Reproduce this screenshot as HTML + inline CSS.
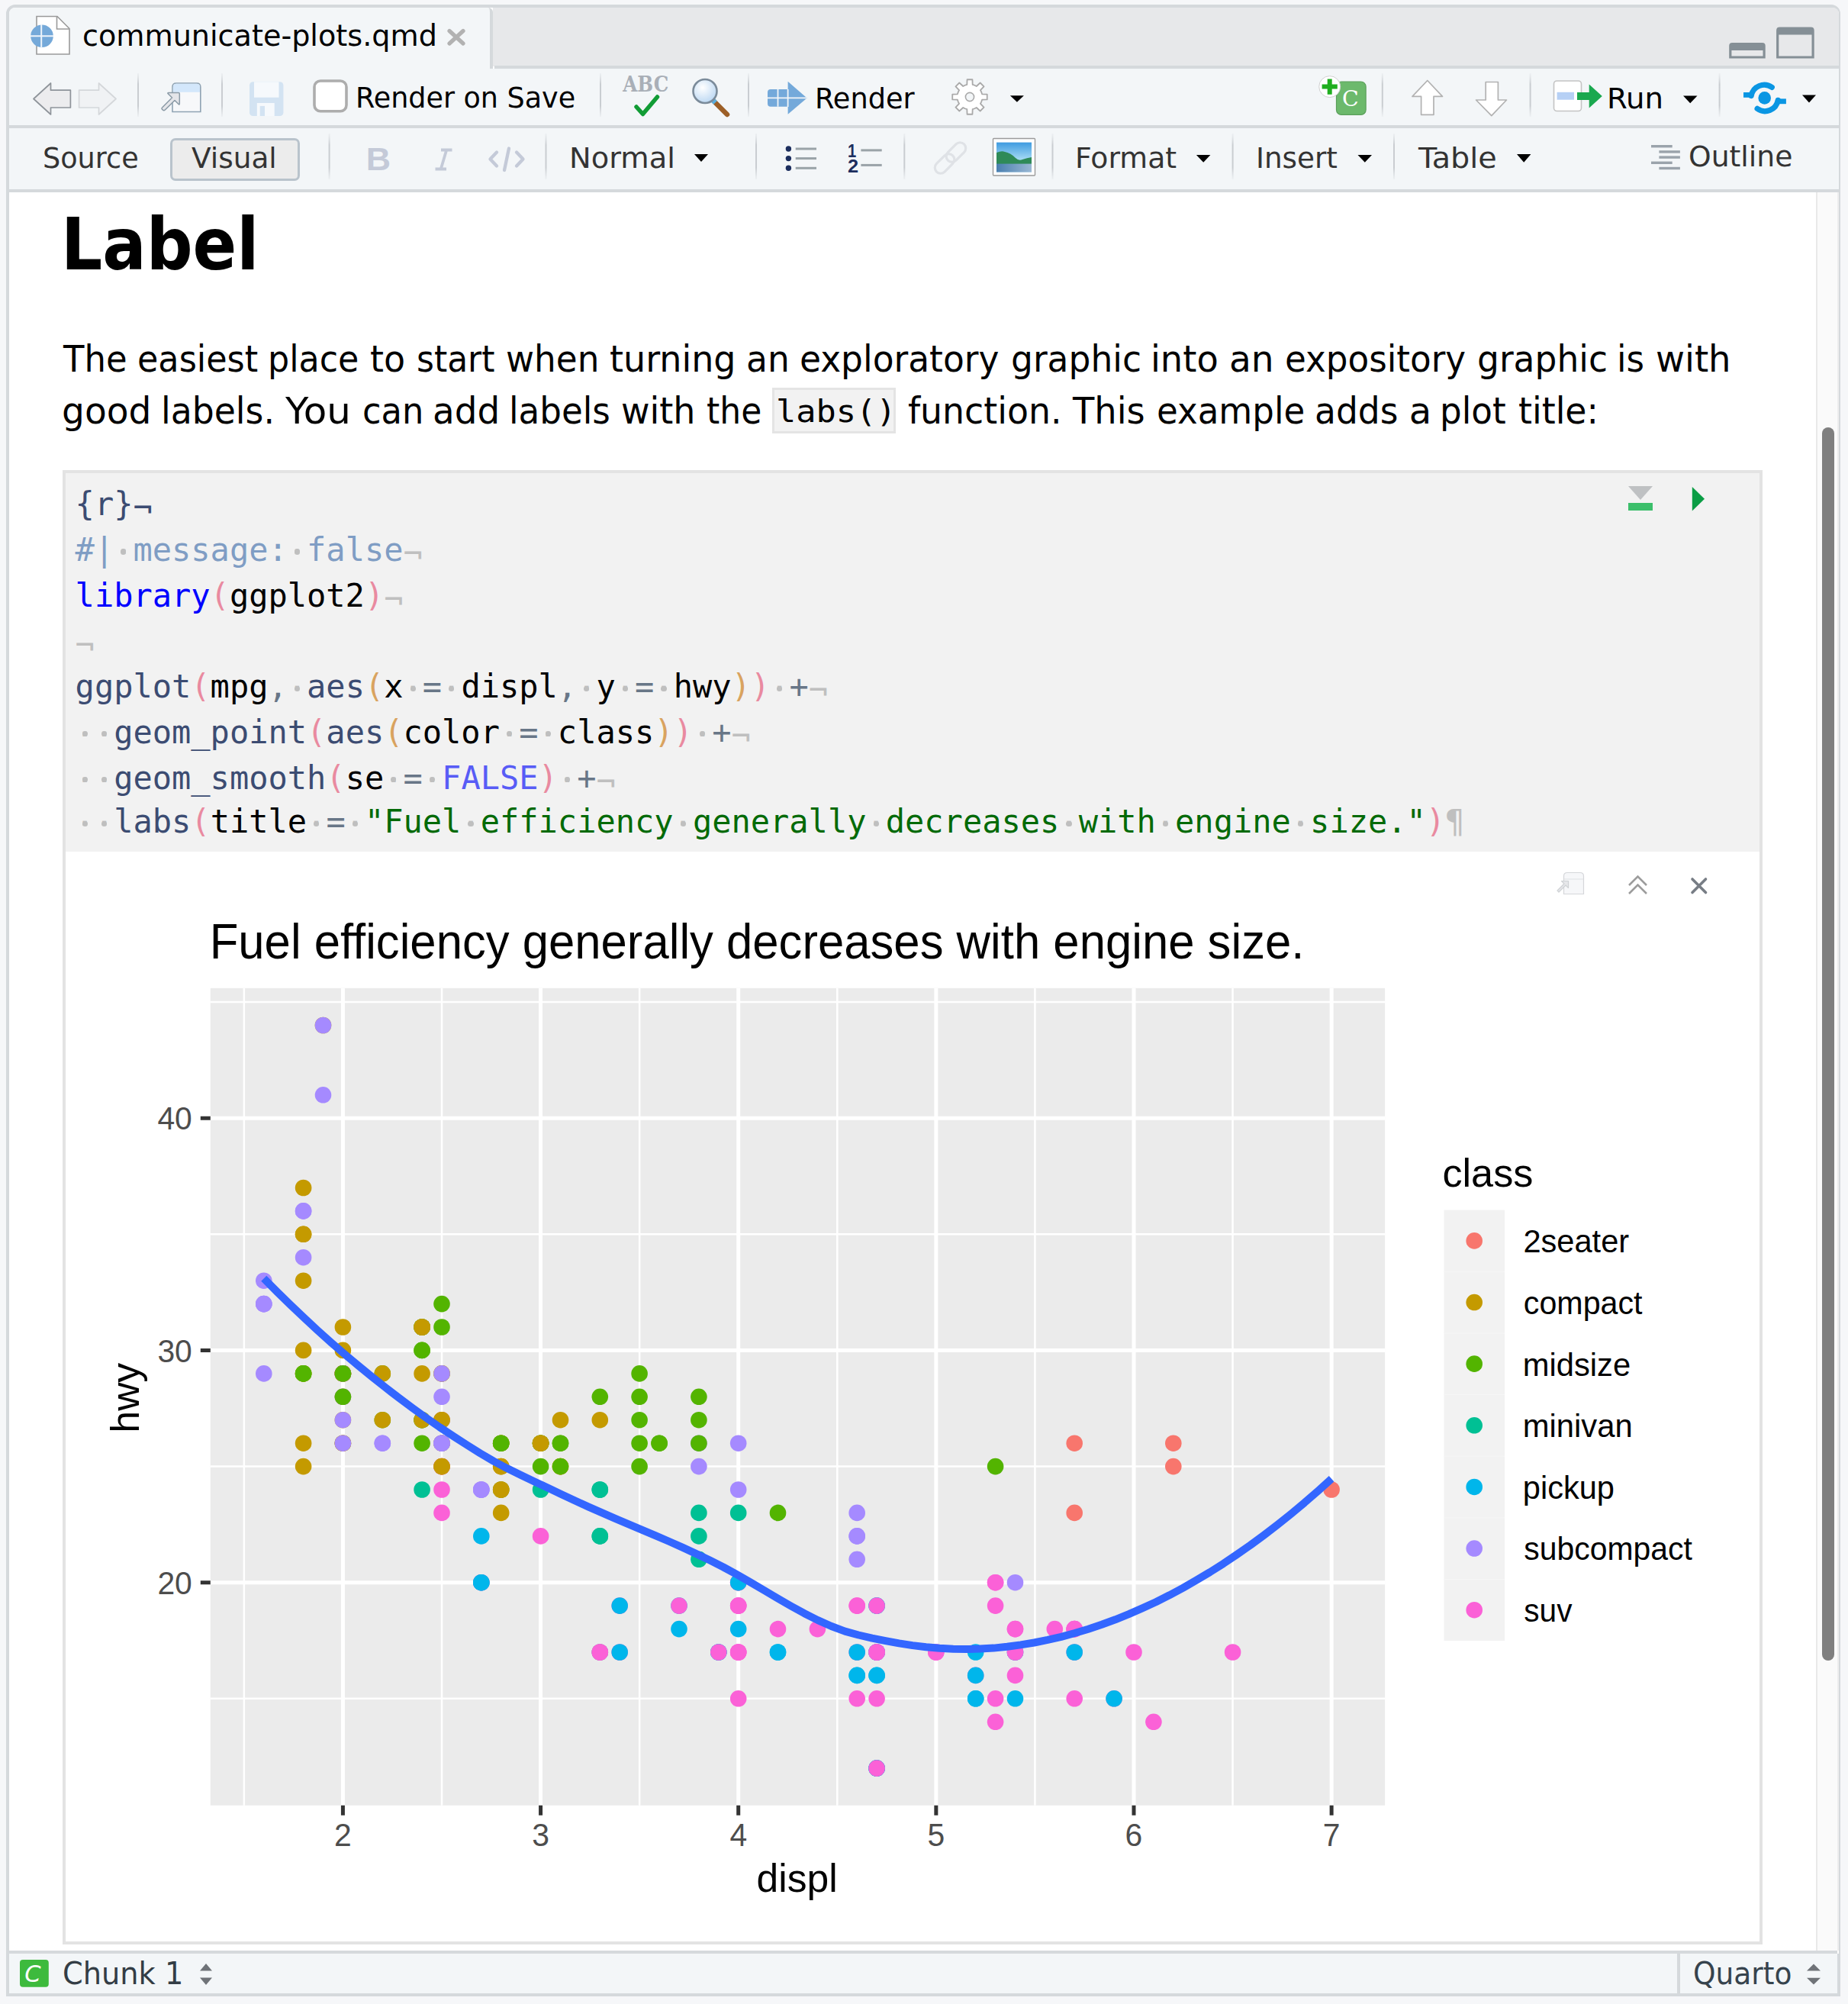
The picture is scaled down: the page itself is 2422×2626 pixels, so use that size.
<!DOCTYPE html>
<html><head><meta charset="utf-8"><title>communicate-plots.qmd</title><style>
*{margin:0;padding:0;box-sizing:border-box}
html,body{width:2422px;height:2626px;overflow:hidden}
body{position:relative;background:#f6f7f9;font-family:'DejaVu Sans',sans-serif}
.t{position:absolute;white-space:pre;line-height:0;transform-origin:0 0}
.a{position:absolute}
.code{position:absolute;white-space:pre;line-height:0;font-family:'DejaVu Sans Mono',monospace;font-size:42px;color:#000}
.plot{position:absolute;left:86px;top:1116px}
.dt{color:#bfbfbf;position:relative;top:3px}
.nl{position:relative;top:5px}
.dt::before{content:'';position:absolute;left:50%;top:20.6px;width:7.2px;height:7.2px;margin-left:-3.6px;border-radius:50%;background:#bfbfbf}
#icons{position:absolute;left:0;top:0}
</style></head><body>
<div class="a" id="frame" style="left:8px;top:6px;width:2404px;height:2610px;border:4px solid #d5d9dc;border-right-width:2px;border-radius:12px 12px 0 0;background:#fff"></div>
<div class="a" style="left:646px;top:10px;width:1764px;height:77px;background:#e7e8ea;border-top-right-radius:8px"></div>
<div class="a" style="left:648px;top:86px;width:1762px;height:4px;background:#d5d9dc"></div>
<div class="a" style="left:12px;top:10px;width:634px;height:80px;background:#f3f6f8;border-right:4px solid #d5d9dc;border-radius:8px 6px 0 0"></div>
<div class="a" id="tb1" style="left:12px;top:90px;width:2398px;height:74px;background:#f3f6f8"></div>
<div class="a" style="left:12px;top:164px;width:2398px;height:4px;background:#d5d9dc"></div>
<div class="a" id="tb2" style="left:12px;top:168px;width:2398px;height:80px;background:#f3f6f8"></div>
<div class="a" style="left:12px;top:248px;width:2398px;height:4px;background:#d5d9dc"></div>
<div class="a" style="left:223px;top:181px;width:170px;height:56px;background:#ececec;border:3px solid #b9c3cc;border-radius:7px"></div>
<div class="a" style="left:2380px;top:252px;width:30px;height:2304px;background:#fafafa;border-left:2px solid #e9e9e9;border-right:2px solid #eeeeee"></div>
<div class="a" style="left:2388px;top:560px;width:15.8px;height:1616px;background:#7f7f7f;border-radius:8px"></div>
<div class="a" style="left:12px;top:2556px;width:2396px;height:4px;background:#d5d9dc"></div>
<div class="a" id="status" style="left:12px;top:2560px;width:2398px;height:52px;background:#f3f6f8;border-right:2px solid #d5d9dc"></div>
<div class="a" style="left:2198px;top:2560px;width:4px;height:52px;background:#d5d9dc"></div>
<div class="a" id="chunk" style="left:82px;top:616px;width:2228px;height:1932px;border:4px solid #e3e3e3;background:#fff"></div>
<div class="a" style="left:86px;top:620px;width:2220px;height:496px;background:#f2f2f2"></div>
<div class="a" style="left:1012px;top:508px;width:162px;height:60px;background:#f2f2f2;border:3px solid #e4e4e4"></div>
<svg class="plot" width="2220" height="1428" viewBox="86 1116 2220 1428">
<rect x="275.80" y="1294.80" width="1539.30" height="1071.00" fill="#EBEBEB"/>
<path d="M319.85 1294.80V2365.80M579.00 1294.80V2365.80M838.14 1294.80V2365.80M1097.28 1294.80V2365.80M1356.42 1294.80V2365.80M1615.56 1294.80V2365.80M275.80 2225.84H1815.10M275.80 1921.58H1815.10M275.80 1617.32H1815.10M275.80 1313.06H1815.10" stroke="#FFFFFF" stroke-width="2.5" fill="none"/>
<path d="M449.42 1294.80V2365.80M708.57 1294.80V2365.80M967.71 1294.80V2365.80M1226.85 1294.80V2365.80M1485.99 1294.80V2365.80M1745.13 1294.80V2365.80M275.80 2073.71H1815.10M275.80 1769.45H1815.10M275.80 1465.19H1815.10" stroke="#FFFFFF" stroke-width="5" fill="none"/>
<circle cx="397.6" cy="1799.9" r="10.8" fill="#C49A00"/>
<circle cx="397.6" cy="1799.9" r="10.8" fill="#C49A00"/>
<circle cx="449.4" cy="1739.0" r="10.8" fill="#C49A00"/>
<circle cx="449.4" cy="1769.4" r="10.8" fill="#C49A00"/>
<circle cx="656.7" cy="1891.2" r="10.8" fill="#C49A00"/>
<circle cx="656.7" cy="1891.2" r="10.8" fill="#C49A00"/>
<circle cx="734.5" cy="1860.7" r="10.8" fill="#C49A00"/>
<circle cx="397.6" cy="1891.2" r="10.8" fill="#C49A00"/>
<circle cx="397.6" cy="1921.6" r="10.8" fill="#C49A00"/>
<circle cx="449.4" cy="1830.3" r="10.8" fill="#C49A00"/>
<circle cx="449.4" cy="1860.7" r="10.8" fill="#C49A00"/>
<circle cx="656.7" cy="1921.6" r="10.8" fill="#C49A00"/>
<circle cx="656.7" cy="1921.6" r="10.8" fill="#C49A00"/>
<circle cx="734.5" cy="1921.6" r="10.8" fill="#C49A00"/>
<circle cx="734.5" cy="1921.6" r="10.8" fill="#C49A00"/>
<circle cx="656.7" cy="1952.0" r="10.8" fill="#53B400"/>
<circle cx="734.5" cy="1921.6" r="10.8" fill="#53B400"/>
<circle cx="1019.5" cy="1982.4" r="10.8" fill="#53B400"/>
<circle cx="1304.6" cy="2073.7" r="10.8" fill="#FB61D7"/>
<circle cx="1304.6" cy="2225.8" r="10.8" fill="#FB61D7"/>
<circle cx="1304.6" cy="2073.7" r="10.8" fill="#FB61D7"/>
<circle cx="1408.2" cy="2165.0" r="10.8" fill="#FB61D7"/>
<circle cx="1486.0" cy="2165.0" r="10.8" fill="#FB61D7"/>
<circle cx="1408.2" cy="1891.2" r="10.8" fill="#F8766D"/>
<circle cx="1408.2" cy="1982.4" r="10.8" fill="#F8766D"/>
<circle cx="1537.8" cy="1891.2" r="10.8" fill="#F8766D"/>
<circle cx="1537.8" cy="1921.6" r="10.8" fill="#F8766D"/>
<circle cx="1745.1" cy="1952.0" r="10.8" fill="#F8766D"/>
<circle cx="1304.6" cy="2104.1" r="10.8" fill="#FB61D7"/>
<circle cx="1304.6" cy="2256.3" r="10.8" fill="#FB61D7"/>
<circle cx="1408.2" cy="2225.8" r="10.8" fill="#FB61D7"/>
<circle cx="1615.6" cy="2165.0" r="10.8" fill="#FB61D7"/>
<circle cx="553.1" cy="1860.7" r="10.8" fill="#53B400"/>
<circle cx="553.1" cy="1769.4" r="10.8" fill="#53B400"/>
<circle cx="734.5" cy="1891.2" r="10.8" fill="#53B400"/>
<circle cx="838.1" cy="1799.9" r="10.8" fill="#53B400"/>
<circle cx="864.1" cy="1891.2" r="10.8" fill="#53B400"/>
<circle cx="553.1" cy="1952.0" r="10.8" fill="#00C094"/>
<circle cx="708.6" cy="1952.0" r="10.8" fill="#00C094"/>
<circle cx="786.3" cy="2012.9" r="10.8" fill="#00C094"/>
<circle cx="786.3" cy="2012.9" r="10.8" fill="#00C094"/>
<circle cx="786.3" cy="1952.0" r="10.8" fill="#00C094"/>
<circle cx="786.3" cy="1952.0" r="10.8" fill="#00C094"/>
<circle cx="786.3" cy="2165.0" r="10.8" fill="#00C094"/>
<circle cx="915.9" cy="2012.9" r="10.8" fill="#00C094"/>
<circle cx="915.9" cy="2043.3" r="10.8" fill="#00C094"/>
<circle cx="915.9" cy="1982.4" r="10.8" fill="#00C094"/>
<circle cx="967.7" cy="1982.4" r="10.8" fill="#00C094"/>
<circle cx="890.0" cy="2104.1" r="10.8" fill="#00B6EB"/>
<circle cx="890.0" cy="2134.6" r="10.8" fill="#00B6EB"/>
<circle cx="941.8" cy="2165.0" r="10.8" fill="#00B6EB"/>
<circle cx="941.8" cy="2165.0" r="10.8" fill="#00B6EB"/>
<circle cx="1149.1" cy="2104.1" r="10.8" fill="#00B6EB"/>
<circle cx="1149.1" cy="2104.1" r="10.8" fill="#00B6EB"/>
<circle cx="1149.1" cy="2317.1" r="10.8" fill="#00B6EB"/>
<circle cx="1278.7" cy="2165.0" r="10.8" fill="#00B6EB"/>
<circle cx="1278.7" cy="2225.8" r="10.8" fill="#00B6EB"/>
<circle cx="941.8" cy="2165.0" r="10.8" fill="#FB61D7"/>
<circle cx="1149.1" cy="2165.0" r="10.8" fill="#FB61D7"/>
<circle cx="1149.1" cy="2317.1" r="10.8" fill="#FB61D7"/>
<circle cx="1149.1" cy="2165.0" r="10.8" fill="#FB61D7"/>
<circle cx="1278.7" cy="2195.4" r="10.8" fill="#FB61D7"/>
<circle cx="1408.2" cy="2134.6" r="10.8" fill="#FB61D7"/>
<circle cx="1460.1" cy="2225.8" r="10.8" fill="#FB61D7"/>
<circle cx="1149.1" cy="2195.4" r="10.8" fill="#00B6EB"/>
<circle cx="1149.1" cy="2317.1" r="10.8" fill="#00B6EB"/>
<circle cx="1149.1" cy="2165.0" r="10.8" fill="#00B6EB"/>
<circle cx="1149.1" cy="2165.0" r="10.8" fill="#00B6EB"/>
<circle cx="1149.1" cy="2195.4" r="10.8" fill="#00B6EB"/>
<circle cx="1149.1" cy="2317.1" r="10.8" fill="#00B6EB"/>
<circle cx="1278.7" cy="2225.8" r="10.8" fill="#00B6EB"/>
<circle cx="1278.7" cy="2195.4" r="10.8" fill="#00B6EB"/>
<circle cx="1408.2" cy="2165.0" r="10.8" fill="#00B6EB"/>
<circle cx="1460.1" cy="2225.8" r="10.8" fill="#00B6EB"/>
<circle cx="1123.2" cy="2165.0" r="10.8" fill="#FB61D7"/>
<circle cx="1330.5" cy="2165.0" r="10.8" fill="#FB61D7"/>
<circle cx="1330.5" cy="2134.6" r="10.8" fill="#FB61D7"/>
<circle cx="967.7" cy="2165.0" r="10.8" fill="#FB61D7"/>
<circle cx="967.7" cy="2104.1" r="10.8" fill="#FB61D7"/>
<circle cx="967.7" cy="2165.0" r="10.8" fill="#FB61D7"/>
<circle cx="967.7" cy="2104.1" r="10.8" fill="#FB61D7"/>
<circle cx="1123.2" cy="2104.1" r="10.8" fill="#FB61D7"/>
<circle cx="1226.8" cy="2165.0" r="10.8" fill="#FB61D7"/>
<circle cx="1019.5" cy="2165.0" r="10.8" fill="#00B6EB"/>
<circle cx="1019.5" cy="2165.0" r="10.8" fill="#00B6EB"/>
<circle cx="1123.2" cy="2195.4" r="10.8" fill="#00B6EB"/>
<circle cx="1123.2" cy="2195.4" r="10.8" fill="#00B6EB"/>
<circle cx="1123.2" cy="2165.0" r="10.8" fill="#00B6EB"/>
<circle cx="1330.5" cy="2225.8" r="10.8" fill="#00B6EB"/>
<circle cx="1330.5" cy="2165.0" r="10.8" fill="#00B6EB"/>
<circle cx="915.9" cy="1891.2" r="10.8" fill="#A58AFF"/>
<circle cx="915.9" cy="1921.6" r="10.8" fill="#A58AFF"/>
<circle cx="967.7" cy="1891.2" r="10.8" fill="#A58AFF"/>
<circle cx="967.7" cy="1952.0" r="10.8" fill="#A58AFF"/>
<circle cx="1123.2" cy="2043.3" r="10.8" fill="#A58AFF"/>
<circle cx="1123.2" cy="2012.9" r="10.8" fill="#A58AFF"/>
<circle cx="1123.2" cy="1982.4" r="10.8" fill="#A58AFF"/>
<circle cx="1123.2" cy="2012.9" r="10.8" fill="#A58AFF"/>
<circle cx="1330.5" cy="2073.7" r="10.8" fill="#A58AFF"/>
<circle cx="345.8" cy="1678.2" r="10.8" fill="#A58AFF"/>
<circle cx="345.8" cy="1708.6" r="10.8" fill="#A58AFF"/>
<circle cx="345.8" cy="1708.6" r="10.8" fill="#A58AFF"/>
<circle cx="345.8" cy="1799.9" r="10.8" fill="#A58AFF"/>
<circle cx="345.8" cy="1708.6" r="10.8" fill="#A58AFF"/>
<circle cx="397.6" cy="1647.7" r="10.8" fill="#A58AFF"/>
<circle cx="397.6" cy="1586.9" r="10.8" fill="#A58AFF"/>
<circle cx="397.6" cy="1586.9" r="10.8" fill="#A58AFF"/>
<circle cx="449.4" cy="1799.9" r="10.8" fill="#A58AFF"/>
<circle cx="553.1" cy="1891.2" r="10.8" fill="#53B400"/>
<circle cx="553.1" cy="1860.7" r="10.8" fill="#53B400"/>
<circle cx="553.1" cy="1769.4" r="10.8" fill="#53B400"/>
<circle cx="553.1" cy="1739.0" r="10.8" fill="#53B400"/>
<circle cx="579.0" cy="1891.2" r="10.8" fill="#53B400"/>
<circle cx="579.0" cy="1891.2" r="10.8" fill="#53B400"/>
<circle cx="786.3" cy="1830.3" r="10.8" fill="#53B400"/>
<circle cx="449.4" cy="1891.2" r="10.8" fill="#A58AFF"/>
<circle cx="449.4" cy="1799.9" r="10.8" fill="#A58AFF"/>
<circle cx="449.4" cy="1830.3" r="10.8" fill="#A58AFF"/>
<circle cx="449.4" cy="1860.7" r="10.8" fill="#A58AFF"/>
<circle cx="630.8" cy="1952.0" r="10.8" fill="#A58AFF"/>
<circle cx="630.8" cy="1952.0" r="10.8" fill="#A58AFF"/>
<circle cx="630.8" cy="1952.0" r="10.8" fill="#A58AFF"/>
<circle cx="708.6" cy="2012.9" r="10.8" fill="#FB61D7"/>
<circle cx="890.0" cy="2104.1" r="10.8" fill="#FB61D7"/>
<circle cx="967.7" cy="2073.7" r="10.8" fill="#FB61D7"/>
<circle cx="1149.1" cy="2165.0" r="10.8" fill="#FB61D7"/>
<circle cx="1149.1" cy="2317.1" r="10.8" fill="#FB61D7"/>
<circle cx="1149.1" cy="2104.1" r="10.8" fill="#FB61D7"/>
<circle cx="1408.2" cy="2134.6" r="10.8" fill="#FB61D7"/>
<circle cx="1511.9" cy="2256.3" r="10.8" fill="#FB61D7"/>
<circle cx="967.7" cy="2225.8" r="10.8" fill="#FB61D7"/>
<circle cx="1019.5" cy="2134.6" r="10.8" fill="#FB61D7"/>
<circle cx="1071.4" cy="2134.6" r="10.8" fill="#FB61D7"/>
<circle cx="1123.2" cy="2225.8" r="10.8" fill="#FB61D7"/>
<circle cx="1330.5" cy="2165.0" r="10.8" fill="#FB61D7"/>
<circle cx="1330.5" cy="2195.4" r="10.8" fill="#FB61D7"/>
<circle cx="1330.5" cy="2134.6" r="10.8" fill="#FB61D7"/>
<circle cx="967.7" cy="2165.0" r="10.8" fill="#FB61D7"/>
<circle cx="967.7" cy="2104.1" r="10.8" fill="#FB61D7"/>
<circle cx="1123.2" cy="2104.1" r="10.8" fill="#FB61D7"/>
<circle cx="1226.8" cy="2165.0" r="10.8" fill="#FB61D7"/>
<circle cx="553.1" cy="1799.9" r="10.8" fill="#C49A00"/>
<circle cx="553.1" cy="1860.7" r="10.8" fill="#C49A00"/>
<circle cx="579.0" cy="1739.0" r="10.8" fill="#53B400"/>
<circle cx="579.0" cy="1708.6" r="10.8" fill="#53B400"/>
<circle cx="838.1" cy="1860.7" r="10.8" fill="#53B400"/>
<circle cx="838.1" cy="1891.2" r="10.8" fill="#53B400"/>
<circle cx="708.6" cy="1891.2" r="10.8" fill="#53B400"/>
<circle cx="708.6" cy="1921.6" r="10.8" fill="#53B400"/>
<circle cx="838.1" cy="1921.6" r="10.8" fill="#53B400"/>
<circle cx="786.3" cy="2165.0" r="10.8" fill="#FB61D7"/>
<circle cx="786.3" cy="2165.0" r="10.8" fill="#FB61D7"/>
<circle cx="967.7" cy="2073.7" r="10.8" fill="#FB61D7"/>
<circle cx="1382.3" cy="2134.6" r="10.8" fill="#FB61D7"/>
<circle cx="734.5" cy="1891.2" r="10.8" fill="#53B400"/>
<circle cx="915.9" cy="1891.2" r="10.8" fill="#53B400"/>
<circle cx="915.9" cy="1860.7" r="10.8" fill="#53B400"/>
<circle cx="915.9" cy="1830.3" r="10.8" fill="#53B400"/>
<circle cx="1304.6" cy="1921.6" r="10.8" fill="#53B400"/>
<circle cx="579.0" cy="1921.6" r="10.8" fill="#FB61D7"/>
<circle cx="579.0" cy="1952.0" r="10.8" fill="#FB61D7"/>
<circle cx="579.0" cy="1860.7" r="10.8" fill="#FB61D7"/>
<circle cx="579.0" cy="1921.6" r="10.8" fill="#FB61D7"/>
<circle cx="579.0" cy="1891.2" r="10.8" fill="#FB61D7"/>
<circle cx="579.0" cy="1982.4" r="10.8" fill="#FB61D7"/>
<circle cx="501.3" cy="1891.2" r="10.8" fill="#A58AFF"/>
<circle cx="501.3" cy="1891.2" r="10.8" fill="#A58AFF"/>
<circle cx="579.0" cy="1891.2" r="10.8" fill="#A58AFF"/>
<circle cx="579.0" cy="1891.2" r="10.8" fill="#A58AFF"/>
<circle cx="579.0" cy="1921.6" r="10.8" fill="#C49A00"/>
<circle cx="579.0" cy="1860.7" r="10.8" fill="#C49A00"/>
<circle cx="579.0" cy="1921.6" r="10.8" fill="#C49A00"/>
<circle cx="579.0" cy="1860.7" r="10.8" fill="#C49A00"/>
<circle cx="630.8" cy="2073.7" r="10.8" fill="#FB61D7"/>
<circle cx="630.8" cy="2073.7" r="10.8" fill="#FB61D7"/>
<circle cx="812.2" cy="2104.1" r="10.8" fill="#FB61D7"/>
<circle cx="812.2" cy="2165.0" r="10.8" fill="#FB61D7"/>
<circle cx="967.7" cy="2073.7" r="10.8" fill="#FB61D7"/>
<circle cx="1149.1" cy="2165.0" r="10.8" fill="#FB61D7"/>
<circle cx="501.3" cy="1799.9" r="10.8" fill="#53B400"/>
<circle cx="501.3" cy="1860.7" r="10.8" fill="#53B400"/>
<circle cx="553.1" cy="1739.0" r="10.8" fill="#53B400"/>
<circle cx="553.1" cy="1739.0" r="10.8" fill="#53B400"/>
<circle cx="708.6" cy="1891.2" r="10.8" fill="#53B400"/>
<circle cx="708.6" cy="1891.2" r="10.8" fill="#53B400"/>
<circle cx="838.1" cy="1830.3" r="10.8" fill="#53B400"/>
<circle cx="501.3" cy="1860.7" r="10.8" fill="#C49A00"/>
<circle cx="501.3" cy="1799.9" r="10.8" fill="#C49A00"/>
<circle cx="553.1" cy="1739.0" r="10.8" fill="#C49A00"/>
<circle cx="553.1" cy="1739.0" r="10.8" fill="#C49A00"/>
<circle cx="708.6" cy="1891.2" r="10.8" fill="#C49A00"/>
<circle cx="708.6" cy="1891.2" r="10.8" fill="#C49A00"/>
<circle cx="786.3" cy="1860.7" r="10.8" fill="#C49A00"/>
<circle cx="397.6" cy="1769.4" r="10.8" fill="#C49A00"/>
<circle cx="397.6" cy="1678.2" r="10.8" fill="#C49A00"/>
<circle cx="397.6" cy="1617.3" r="10.8" fill="#C49A00"/>
<circle cx="397.6" cy="1556.5" r="10.8" fill="#C49A00"/>
<circle cx="397.6" cy="1617.3" r="10.8" fill="#C49A00"/>
<circle cx="1149.1" cy="2225.8" r="10.8" fill="#FB61D7"/>
<circle cx="1408.2" cy="2134.6" r="10.8" fill="#FB61D7"/>
<circle cx="630.8" cy="2073.7" r="10.8" fill="#00B6EB"/>
<circle cx="630.8" cy="2073.7" r="10.8" fill="#00B6EB"/>
<circle cx="630.8" cy="2012.9" r="10.8" fill="#00B6EB"/>
<circle cx="812.2" cy="2165.0" r="10.8" fill="#00B6EB"/>
<circle cx="812.2" cy="2104.1" r="10.8" fill="#00B6EB"/>
<circle cx="967.7" cy="2134.6" r="10.8" fill="#00B6EB"/>
<circle cx="967.7" cy="2073.7" r="10.8" fill="#00B6EB"/>
<circle cx="449.4" cy="1799.9" r="10.8" fill="#C49A00"/>
<circle cx="449.4" cy="1891.2" r="10.8" fill="#C49A00"/>
<circle cx="449.4" cy="1799.9" r="10.8" fill="#C49A00"/>
<circle cx="449.4" cy="1799.9" r="10.8" fill="#C49A00"/>
<circle cx="656.7" cy="1952.0" r="10.8" fill="#C49A00"/>
<circle cx="423.5" cy="1343.5" r="10.8" fill="#C49A00"/>
<circle cx="449.4" cy="1799.9" r="10.8" fill="#C49A00"/>
<circle cx="449.4" cy="1891.2" r="10.8" fill="#C49A00"/>
<circle cx="449.4" cy="1799.9" r="10.8" fill="#C49A00"/>
<circle cx="449.4" cy="1799.9" r="10.8" fill="#C49A00"/>
<circle cx="579.0" cy="1799.9" r="10.8" fill="#C49A00"/>
<circle cx="579.0" cy="1799.9" r="10.8" fill="#C49A00"/>
<circle cx="656.7" cy="1982.4" r="10.8" fill="#C49A00"/>
<circle cx="656.7" cy="1952.0" r="10.8" fill="#C49A00"/>
<circle cx="423.5" cy="1343.5" r="10.8" fill="#A58AFF"/>
<circle cx="423.5" cy="1434.8" r="10.8" fill="#A58AFF"/>
<circle cx="449.4" cy="1799.9" r="10.8" fill="#A58AFF"/>
<circle cx="449.4" cy="1891.2" r="10.8" fill="#A58AFF"/>
<circle cx="579.0" cy="1830.3" r="10.8" fill="#A58AFF"/>
<circle cx="579.0" cy="1799.9" r="10.8" fill="#A58AFF"/>
<circle cx="397.6" cy="1799.9" r="10.8" fill="#53B400"/>
<circle cx="397.6" cy="1799.9" r="10.8" fill="#53B400"/>
<circle cx="449.4" cy="1830.3" r="10.8" fill="#53B400"/>
<circle cx="449.4" cy="1799.9" r="10.8" fill="#53B400"/>
<circle cx="656.7" cy="1891.2" r="10.8" fill="#53B400"/>
<circle cx="656.7" cy="1891.2" r="10.8" fill="#53B400"/>
<circle cx="864.1" cy="1891.2" r="10.8" fill="#53B400"/>
<polyline points="345.8,1675.3 363.5,1693.1 381.2,1710.4 398.9,1727.2 416.6,1743.6 434.3,1759.4 452.0,1774.8 469.8,1789.7 487.5,1804.2 505.2,1818.2 522.9,1831.8 540.6,1844.9 558.3,1857.7 576.0,1870.0 593.8,1881.7 611.5,1893.1 629.2,1904.2 646.9,1914.6 664.6,1924.1 682.3,1932.8 700.0,1941.2 717.8,1949.5 735.5,1957.9 753.2,1966.3 770.9,1974.4 788.6,1982.2 806.3,1989.8 824.0,1997.3 841.7,2004.8 859.5,2012.4 877.2,2020.0 894.9,2027.9 912.6,2036.1 930.3,2044.6 948.0,2053.5 965.7,2063.2 983.5,2073.4 1001.2,2083.8 1018.9,2094.3 1036.6,2104.5 1054.3,2114.2 1072.0,2123.1 1089.7,2131.0 1107.4,2137.6 1125.2,2142.5 1142.9,2146.6 1160.6,2150.2 1178.3,2153.4 1196.0,2156.1 1213.7,2158.2 1231.4,2159.8 1249.2,2160.7 1266.9,2161.0 1284.6,2160.6 1302.3,2159.6 1320.0,2157.8 1337.7,2155.4 1355.4,2152.5 1373.1,2148.9 1390.9,2144.8 1408.6,2140.0 1426.3,2134.7 1444.0,2128.8 1461.7,2122.3 1479.4,2115.1 1497.1,2107.4 1514.9,2099.2 1532.6,2090.3 1550.3,2080.8 1568.0,2070.7 1585.7,2060.1 1603.4,2048.9 1621.1,2037.0 1638.9,2024.6 1656.6,2011.6 1674.3,1998.0 1692.0,1983.8 1709.7,1969.1 1727.4,1953.7 1745.1,1937.8" fill="none" stroke="#3366FF" stroke-width="10" stroke-linejoin="round"/>
<path d="M449.42 2365.80V2378.80M708.57 2365.80V2378.80M967.71 2365.80V2378.80M1226.85 2365.80V2378.80M1485.99 2365.80V2378.80M1745.13 2365.80V2378.80M262.80 2073.71H275.80M262.80 1769.45H275.80M262.80 1465.19H275.80" stroke="#333333" stroke-width="5" fill="none"/>
<text x="206.38" y="2089.01" font-family="Liberation Sans" font-size="42.40" fill="#4D4D4D" textLength="45.44" lengthAdjust="spacingAndGlyphs">20</text>
<text x="206.38" y="1784.75" font-family="Liberation Sans" font-size="42.40" fill="#4D4D4D" textLength="45.44" lengthAdjust="spacingAndGlyphs">30</text>
<text x="206.38" y="1480.49" font-family="Liberation Sans" font-size="42.40" fill="#4D4D4D" textLength="45.44" lengthAdjust="spacingAndGlyphs">40</text>
<text x="438.09" y="2419.00" font-family="Liberation Sans" font-size="42.40" fill="#4D4D4D" textLength="22.72" lengthAdjust="spacingAndGlyphs">2</text>
<text x="697.23" y="2419.00" font-family="Liberation Sans" font-size="42.40" fill="#4D4D4D" textLength="22.72" lengthAdjust="spacingAndGlyphs">3</text>
<text x="956.58" y="2419.00" font-family="Liberation Sans" font-size="42.40" fill="#4D4D4D" textLength="22.72" lengthAdjust="spacingAndGlyphs">4</text>
<text x="1215.51" y="2419.00" font-family="Liberation Sans" font-size="42.40" fill="#4D4D4D" textLength="22.72" lengthAdjust="spacingAndGlyphs">5</text>
<text x="1474.45" y="2419.00" font-family="Liberation Sans" font-size="42.40" fill="#4D4D4D" textLength="22.72" lengthAdjust="spacingAndGlyphs">6</text>
<text x="1733.80" y="2419.00" font-family="Liberation Sans" font-size="42.40" fill="#4D4D4D" textLength="22.72" lengthAdjust="spacingAndGlyphs">7</text>
<text x="274.67" y="1256.00" font-family="Liberation Sans" font-size="64.00" fill="#000" textLength="1434.73" lengthAdjust="spacingAndGlyphs">Fuel efficiency generally decreases with engine size.</text>
<text x="991.54" y="2479.00" font-family="Liberation Sans" font-size="51.50" fill="#000" textLength="106.11" lengthAdjust="spacingAndGlyphs">displ</text>
<g transform="translate(182 1873.9) rotate(-90)"><text x="-3.61" y="0.00" font-family="Liberation Sans" font-size="51.50" fill="#000" textLength="91.62" lengthAdjust="spacingAndGlyphs">hwy</text></g>
<text x="1890.41" y="1555.00" font-family="Liberation Sans" font-size="51.50" fill="#000" textLength="118.93" lengthAdjust="spacingAndGlyphs">class</text>
<rect x="1892.5" y="1585.60" width="79.5" height="564.41" fill="#F2F2F2"/>
<circle cx="1932.2" cy="1625.91" r="10.8" fill="#F8766D"/>
<text x="1996.42" y="1641.32" font-family="Liberation Sans" font-size="42.40" fill="#000" textLength="138.73" lengthAdjust="spacingAndGlyphs">2seater</text>
<rect x="1892.5" y="1665.73" width="79.5" height="1" fill="#F6F6F6"/>
<circle cx="1932.2" cy="1706.55" r="10.8" fill="#C49A00"/>
<text x="1996.85" y="1721.95" font-family="Liberation Sans" font-size="42.40" fill="#000" textLength="155.73" lengthAdjust="spacingAndGlyphs">compact</text>
<rect x="1892.5" y="1746.36" width="79.5" height="1" fill="#F6F6F6"/>
<circle cx="1932.2" cy="1787.17" r="10.8" fill="#53B400"/>
<text x="1995.79" y="1802.58" font-family="Liberation Sans" font-size="42.40" fill="#000" textLength="141.38" lengthAdjust="spacingAndGlyphs">midsize</text>
<rect x="1892.5" y="1826.99" width="79.5" height="1" fill="#F6F6F6"/>
<circle cx="1932.2" cy="1867.80" r="10.8" fill="#00C094"/>
<text x="1995.78" y="1883.20" font-family="Liberation Sans" font-size="42.40" fill="#000" textLength="143.97" lengthAdjust="spacingAndGlyphs">minivan</text>
<rect x="1892.5" y="1907.62" width="79.5" height="1" fill="#F6F6F6"/>
<circle cx="1932.2" cy="1948.43" r="10.8" fill="#00B6EB"/>
<text x="1995.80" y="1963.84" font-family="Liberation Sans" font-size="42.40" fill="#000" textLength="120.20" lengthAdjust="spacingAndGlyphs">pickup</text>
<rect x="1892.5" y="1988.25" width="79.5" height="1" fill="#F6F6F6"/>
<circle cx="1932.2" cy="2029.07" r="10.8" fill="#A58AFF"/>
<text x="1997.27" y="2044.47" font-family="Liberation Sans" font-size="42.40" fill="#000" textLength="220.60" lengthAdjust="spacingAndGlyphs">subcompact</text>
<rect x="1892.5" y="2068.88" width="79.5" height="1" fill="#F6F6F6"/>
<circle cx="1932.2" cy="2109.70" r="10.8" fill="#FB61D7"/>
<text x="1997.28" y="2125.10" font-family="Liberation Sans" font-size="42.40" fill="#000" textLength="63.17" lengthAdjust="spacingAndGlyphs">suv</text>
</svg>
<svg id="icons" width="2422" height="2626" viewBox="0 0 2422 2626">
<defs><linearGradient id="sepg" x1="0" y1="0" x2="0" y2="1"><stop offset="0" stop-color="#d3d7db" stop-opacity="0.2"/><stop offset="0.25" stop-color="#c9cdd1"/><stop offset="0.75" stop-color="#c9cdd1"/><stop offset="1" stop-color="#d3d7db" stop-opacity="0.2"/></linearGradient><radialGradient id="lens" cx="0.4" cy="0.35" r="0.7"><stop offset="0" stop-color="#ffffff"/><stop offset="1" stop-color="#b9d6f2"/></radialGradient><linearGradient id="sky" x1="0" y1="0" x2="0" y2="1"><stop offset="0" stop-color="#3f9be0"/><stop offset="0.6" stop-color="#a9dcf5"/></linearGradient><linearGradient id="water" x1="0" y1="0" x2="1" y2="0"><stop offset="0" stop-color="#4a7fb0"/><stop offset="1" stop-color="#9ab8d4"/></linearGradient></defs>
<path d="M48 21.5 H75 L91 37.5 V71 H48 Z" fill="#ffffff" stroke="#9a9a9a" stroke-width="1.6"/>
<path d="M74.5 21.5 V38 H91" fill="none" stroke="#9a9a9a" stroke-width="1.6"/>
<circle cx="55" cy="47.2" r="14.8" fill="#75a9d9"/>
<path d="M54.2 32 V63 M40 47.2 H70" stroke="#eef4fa" stroke-width="2"/>
<path d="M589 40.5 L607 57 M607 40.5 L589 57" stroke="#b2b2b2" stroke-width="5.2" stroke-linecap="round"/>
<path d="M2266.2 76.5 V60 Q2266.2 56 2270.2 56 H2309.7 Q2313.7 56 2313.7 60 V76.5 Z M2269.4 65.9 V73.5 H2310.5 V65.9 Z" fill="#858f96" fill-rule="evenodd"/>
<path d="M2328.1 76.5 V40 Q2328.1 35.6 2332.5 35.6 H2373.3 Q2377.7 35.6 2377.7 40 V76.5 Z M2331.3 45.6 V73.4 H2374.5 V45.6 Z" fill="#858f96" fill-rule="evenodd"/>
<path d="M44 129.5 L66.5 109 V118.2 H92.4 V141 H66.5 V150 Z" fill="#ececee" stroke="#8e949a" stroke-width="1.7" stroke-linejoin="round"/>
<path d="M152 129.5 L129.5 109 V118.2 H103.6 V141 H129.5 V150 Z" fill="#f0f2f4" stroke="#d4d7da" stroke-width="1.7" stroke-linejoin="round"/>
<rect x="180.0" y="96" width="2" height="57" fill="url(#sepg)"/>
<path d="M226 146.5 V114 Q226 109 231 109 H257.8 Q262.8 109 262.8 114 V146.5 Z" fill="#f7f8fa" stroke="#8fa3b3" stroke-width="1.6"/>
<path d="M226.8 120.8 V114 Q226.8 109.8 231 109.8 H257.6 Q262 109.8 262 114 V120.8 Z" fill="#d3e7fb"/>
<path d="M213 140.5 L225.5 128 L220.5 123 Q219 121.5 221 121.5 H234 Q235.3 121.5 235.3 122.8 V135.8 Q235.3 137.8 233.8 136.3 L229 131.5 L216.3 144 Q214.8 145.5 213.3 144 L212.5 143.2 Q211.3 142 213 140.5 Z" fill="#e4e5e9" stroke="#8a9aa6" stroke-width="1.5" stroke-linejoin="round"/>
<rect x="290.0" y="96" width="2" height="57" fill="url(#sepg)"/>
<rect x="327" y="107.3" width="44.4" height="44.7" rx="4.5" fill="#d3e3f2"/>
<rect x="333" y="107.3" width="32.5" height="20.4" fill="#f6f9fc"/>
<rect x="336.8" y="135" width="22.9" height="17" fill="#f6f9fc"/>
<rect x="340.7" y="138.9" width="6.3" height="13.1" fill="#d3e3f2"/>
<rect x="412" y="106" width="42" height="39.8" rx="8" fill="#ffffff" stroke="#adadad" stroke-width="3.6"/>
<rect x="786.0" y="96" width="2" height="57" fill="url(#sepg)"/>
<text x="816.25" y="120.30" font-family="DejaVu Serif" font-size="27.50" font-weight="bold" fill="#a9afb7" textLength="60.00" lengthAdjust="spacingAndGlyphs">ABC</text>
<path d="M834 140 L842.5 149.5 L861.5 127" fill="none" stroke="#119c35" stroke-width="5.5" stroke-linecap="round" stroke-linejoin="round"/>
<path d="M936 133 L953 150" stroke="#9c5f27" stroke-width="6.5" stroke-linecap="round"/>
<path d="M933.5 130.5 L937.5 134.5" stroke="#5ab0e0" stroke-width="6.5"/>
<circle cx="924" cy="119.5" r="15.5" fill="url(#lens)" stroke="#7b8b9a" stroke-width="2.6"/>
<rect x="980.0" y="96" width="2" height="57" fill="url(#sepg)"/>
<path d="M1006 121 Q1006 117 1010 117 H1033 V139.7 H1010 Q1006 139.7 1006 135.7 Z" fill="#74a9da"/>
<path d="M1032.6 106.7 L1057.6 128.5 L1032.6 149.8 Z" fill="#74a9da"/>
<path d="M1019.5 117 V139.7 M1006 128.4 H1057" stroke="#f3f6f8" stroke-width="1.8"/>
<path d="M1032.6 117 V140" stroke="#f3f6f8" stroke-width="1.8"/>
<path d="M1264.69 111.76 L1267.32 110.92 L1267.56 104.26 L1274.44 104.26 L1274.68 110.92 L1277.31 111.76 L1279.77 113.02 L1284.65 108.49 L1289.51 113.35 L1284.98 118.23 L1286.24 120.69 L1287.08 123.32 L1293.74 123.56 L1293.74 130.44 L1287.08 130.68 L1286.24 133.31 L1284.98 135.77 L1289.51 140.65 L1284.65 145.51 L1279.77 140.98 L1277.31 142.24 L1274.68 143.08 L1274.44 149.74 L1267.56 149.74 L1267.32 143.08 L1264.69 142.24 L1262.23 140.98 L1257.35 145.51 L1252.49 140.65 L1257.02 135.77 L1255.76 133.31 L1254.92 130.68 L1248.26 130.44 L1248.26 123.56 L1254.92 123.32 L1255.76 120.69 L1257.02 118.23 L1252.49 113.35 L1257.35 108.49 L1262.23 113.02 Z" fill="#ffffff" stroke="#a9a9a9" stroke-width="1.8" stroke-linejoin="round"/>
<circle cx="1271" cy="127" r="5.6" fill="#f3f6f8" stroke="#a9a9a9" stroke-width="1.6"/>
<path d="M1323.9 125.2 H1341.9 L1332.9 133.8 Z" fill="#000"/>
<rect x="1751.5" y="107" width="38.6" height="43.4" rx="6.5" fill="#6cb96c" stroke="#5a9f5a" stroke-width="1.2"/>
<text x="1758.93" y="138.50" font-family="DejaVu Serif" font-size="27.00" fill="#ffffff" textLength="21.78" lengthAdjust="spacingAndGlyphs">C</text>
<circle cx="1742.7" cy="113.6" r="14" fill="#ffffff" stroke="#d0d0d0" stroke-width="1"/>
<path d="M1742.7 103.5 V123.7 M1732.6 113.6 H1752.8" stroke="#1fae1f" stroke-width="6"/>
<rect x="1810.8" y="96" width="2" height="57" fill="url(#sepg)"/>
<path d="M1870.8 105.5 L1890.5 126.4 H1879 V150.3 H1862.6 V126.4 H1851 Z" fill="#ffffff" stroke="#b2b2b2" stroke-width="1.7" stroke-linejoin="round"/>
<path d="M1947.2 107.5 H1963.4 V131 H1974.5 L1954.8 151.6 L1934.5 131 H1947.2 Z" fill="#ffffff" stroke="#b2b2b2" stroke-width="1.7" stroke-linejoin="round"/>
<rect x="2004.6" y="96" width="2" height="57" fill="url(#sepg)"/>
<rect x="2036.5" y="106" width="36" height="39.5" rx="4" fill="#ffffff" stroke="#c4c4c4" stroke-width="1.6"/>
<rect x="2040.6" y="120.8" width="22.4" height="9.9" fill="#b6d0f5"/>
<path d="M2067 121 H2082.7 V110.6 L2099.8 126 L2082.7 141.4 V131 H2067 Z" fill="#1aa84f"/>
<path d="M2206.0 125.5 H2224.5 L2215.2 135.3 Z" fill="#000"/>
<rect x="2252.6" y="96" width="2" height="57" fill="url(#sepg)"/>
<circle cx="2312.7" cy="128.4" r="8.3" fill="#0a96e3"/>
<rect x="2285" y="121" width="12" height="6.8" fill="#0a96e3"/><rect x="2328.6" y="129.4" width="12.3" height="6.8" fill="#0a96e3"/>
<path d="M2295.2 125.5 A17.3 17.3 0 0 1 2322.3 114.4" fill="none" stroke="#0a96e3" stroke-width="7.2" stroke-linecap="round"/>
<path d="M2330.2 131.3 A17.3 17.3 0 0 1 2303.1 142.4" fill="none" stroke="#0a96e3" stroke-width="7.2" stroke-linecap="round"/>
<path d="M2362.0 124.4 H2380.0 L2371.0 134.5 Z" fill="#000"/>
<rect x="430.6" y="175" width="2" height="60" fill="url(#sepg)"/>
<text x="479.79" y="223.00" font-family="Liberation Sans" font-size="42.00" font-weight="bold" fill="#c4cad8" textLength="32.32" lengthAdjust="spacingAndGlyphs">B</text>
<path d="M578 196.5 H592.5 M570.5 221.5 H585 M585.2 196.5 L577.8 221.5" stroke="#c4cad8" stroke-width="3.8" fill="none"/>
<path d="M651 199.5 L642.5 208.5 L651 217.5 M677 199.5 L685.5 208.5 L677 217.5 M667 194.5 L661 223" stroke="#c4cad8" stroke-width="4.3" stroke-linecap="round" stroke-linejoin="round" fill="none"/>
<rect x="714.5" y="175" width="2" height="60" fill="url(#sepg)"/>
<path d="M910.0 202.0 H928.0 L919.0 212.0 Z" fill="#000"/>
<rect x="990.0" y="175" width="2" height="60" fill="url(#sepg)"/>
<circle cx="1033.4" cy="195.0" r="3.7" fill="#1c2e5e"/>
<rect x="1042.7" y="193.5" width="27.3" height="3" fill="#9aa3a8"/>
<circle cx="1033.4" cy="207.6" r="3.7" fill="#1c2e5e"/>
<rect x="1042.7" y="206.1" width="27.3" height="3" fill="#9aa3a8"/>
<circle cx="1033.4" cy="220.3" r="3.7" fill="#1c2e5e"/>
<rect x="1042.7" y="218.8" width="27.3" height="3" fill="#9aa3a8"/>
<text x="1111.09" y="206.00" font-family="Liberation Sans" font-size="24.00" font-weight="bold" fill="#1c2e5e" textLength="11.24" lengthAdjust="spacingAndGlyphs">1</text>
<text x="1111.11" y="225.50" font-family="Liberation Sans" font-size="24.00" font-weight="bold" fill="#1c2e5e" textLength="14.14" lengthAdjust="spacingAndGlyphs">2</text>
<rect x="1128.4" y="195.4" width="27.3" height="3" fill="#9aa3a8"/><rect x="1128.4" y="214.9" width="27.3" height="3" fill="#9aa3a8"/>
<rect x="1184.3" y="175" width="2" height="60" fill="url(#sepg)"/>
<g transform="rotate(-45 1245.5 207)" fill="none" stroke="#dfe2e6" stroke-width="3.2"><rect x="1220" y="199.5" width="30" height="15" rx="7.5"/><rect x="1241" y="199.5" width="30" height="15" rx="7.5"/></g>
<rect x="1301.5" y="181.5" width="55" height="48.5" fill="#ffffff" stroke="#9b9b9b" stroke-width="1.4" rx="1"/>
<rect x="1306" y="186.6" width="46" height="38.9" fill="url(#sky)"/>
<path d="M1306 200 Q1313 197 1317 199 Q1324 200 1331 207 Q1335 211 1340 209 Q1346 207 1352 206 V216 H1306 Z" fill="#2f8a58"/>
<rect x="1306" y="214.6" width="46" height="10.9" fill="url(#water)"/>
<rect x="1378.5" y="175" width="2" height="60" fill="url(#sepg)"/>
<path d="M1567.9 203.0 H1586.4 L1577.2 212.7 Z" fill="#000"/>
<rect x="1614.6" y="175" width="2" height="60" fill="url(#sepg)"/>
<path d="M1779.5 203.0 H1798.0 L1788.8 212.7 Z" fill="#000"/>
<rect x="1826.0" y="175" width="2" height="60" fill="url(#sepg)"/>
<path d="M1988.0 202.0 H2006.4 L1997.2 212.7 Z" fill="#000"/>
<rect x="2164.0" y="190.0" width="27.7" height="3.4" fill="#9aa3ab"/>
<rect x="2174.4" y="197.2" width="27.5" height="3.4" fill="#9aa3ab"/>
<rect x="2174.4" y="204.4" width="27.5" height="3.4" fill="#9aa3ab"/>
<rect x="2164.0" y="211.6" width="27.7" height="3.4" fill="#9aa3ab"/>
<rect x="2174.4" y="218.8" width="27.5" height="3.4" fill="#9aa3ab"/>
<path d="M2134 637 H2166 L2150 655 Z" fill="#bfc1c3"/>
<rect x="2134" y="659" width="32" height="10" fill="#3cbf6b"/>
<path d="M2217.8 638 L2234 653.7 L2217.8 669.5 Z" fill="#0b9d45"/>
<path d="M2049.5 1171.5 V1148 Q2049.5 1143.5 2054 1143.5 H2071 Q2075.5 1143.5 2075.5 1148 V1171.5 Z" fill="#f6f7f9" stroke="#d5d7da" stroke-width="1.2"/>
<path d="M2050 1152 H2075" stroke="#e3e4e6" stroke-width="1.2"/>
<path d="M2041 1167 L2050 1158 L2046.5 1154.5 H2055.5 V1163.5 L2052 1160 L2043 1169 Z" fill="#e6e7ea" stroke="#cfd2d5" stroke-width="1.2" stroke-linejoin="round"/>
<path d="M2135 1160 L2146.5 1148.5 L2158 1160 M2135 1171 L2146.5 1159.5 L2158 1171" fill="none" stroke="#9c9c9c" stroke-width="2.6"/>
<path d="M2218 1152 L2235.5 1169.5 M2235.5 1152 L2218 1169.5" stroke="#777d85" stroke-width="3.6" stroke-linecap="round"/>
<rect x="26" y="2568" width="37.8" height="35.8" rx="4" fill="#3dba3d"/>
<text x="32.28" y="2597.00" font-family="DejaVu Sans" font-size="30.00" font-style="italic" fill="#ffffff" textLength="21.32" lengthAdjust="spacingAndGlyphs">C</text>
<path d="M270.0 2573.0 L278.0 2582.5 H262.0 Z M262.0 2591.6 H278.0 L270.0 2601.0 Z" fill="#6f7378"/>
<path d="M2377.0 2573.4 L2386.0 2582.6 H2368.0 Z M2368.0 2591.7 H2386.0 L2377.0 2600.5 Z" fill="#6f7378"/>
</svg>
<div class="t" style="left:107.60px;top:46.68px;font-family:'DejaVu Sans';font-size:38.50px;transform:scaleX(0.9909);color:#000;">communicate-plots.qmd</div>
<div class="t" style="left:466.05px;top:128.22px;font-family:'DejaVu Sans';font-size:37.80px;transform:scaleX(0.9656);color:#000;">Render on Save</div>
<div class="t" style="left:1067.93px;top:129.42px;font-family:'DejaVu Sans';font-size:37.80px;transform:scaleX(0.9703);color:#000;">Render</div>
<div class="t" style="left:2106.14px;top:129.22px;font-family:'DejaVu Sans';font-size:37.80px;transform:scaleX(1.0216);color:#000;">Run</div>
<div class="t" style="left:55.62px;top:207.02px;font-family:'DejaVu Sans';font-size:37.80px;transform:scaleX(0.9682);color:#333333;">Source</div>
<div class="t" style="left:250.63px;top:207.02px;font-family:'DejaVu Sans';font-size:37.80px;transform:scaleX(0.9903);color:#333333;">Visual</div>
<div class="t" style="left:745.76px;top:206.92px;font-family:'DejaVu Sans';font-size:37.80px;transform:scaleX(1.0149);color:#333333;">Normal</div>
<div class="t" style="left:1408.93px;top:207.02px;font-family:'DejaVu Sans';font-size:37.80px;color:#333333;">Format</div>
<div class="t" style="left:1645.97px;top:207.02px;font-family:'DejaVu Sans';font-size:37.80px;transform:scaleX(0.9859);color:#333333;">Insert</div>
<div class="t" style="left:1859.20px;top:207.02px;font-family:'DejaVu Sans';font-size:37.80px;transform:scaleX(1.0520);color:#333333;">Table</div>
<div class="t" style="left:2213.43px;top:205.42px;font-family:'DejaVu Sans';font-size:37.80px;transform:scaleX(0.9972);color:#333333;">Outline</div>
<div class="t" style="left:82.29px;top:2586.16px;font-family:'DejaVu Sans';font-size:40.00px;transform:scaleX(0.9573);color:#333d45;">Chunk 1</div>
<div class="t" style="left:2218.54px;top:2586.36px;font-family:'DejaVu Sans';font-size:40.00px;transform:scaleX(0.9386);color:#36434d;">Quarto</div>
<div class="t" style="left:80.34px;top:319.63px;font-family:'DejaVu Sans';font-size:95.00px;font-weight:bold;transform:scaleX(0.8956);color:#000;">Label</div>
<div class="t" style="left:82.52px;top:470.39px;font-family:'DejaVu Sans';font-size:48.00px;transform:scaleX(0.9360);color:#000;">The</div>
<div class="t" style="left:180.15px;top:470.39px;font-family:'DejaVu Sans';font-size:48.00px;transform:scaleX(0.9269);color:#000;">easiest</div>
<div class="t" style="left:351.31px;top:470.39px;font-family:'DejaVu Sans';font-size:48.00px;transform:scaleX(0.9239);color:#000;">place</div>
<div class="t" style="left:485.25px;top:470.39px;font-family:'DejaVu Sans';font-size:48.00px;transform:scaleX(0.9560);color:#000;">to</div>
<div class="t" style="left:545.68px;top:470.39px;font-family:'DejaVu Sans';font-size:48.00px;transform:scaleX(0.9160);color:#000;">start</div>
<div class="t" style="left:662.99px;top:470.39px;font-family:'DejaVu Sans';font-size:48.00px;transform:scaleX(0.9437);color:#000;">when</div>
<div class="t" style="left:799.35px;top:470.39px;font-family:'DejaVu Sans';font-size:48.00px;transform:scaleX(0.9582);color:#000;">turning</div>
<div class="t" style="left:978.17px;top:470.39px;font-family:'DejaVu Sans';font-size:48.00px;transform:scaleX(0.9480);color:#000;">an</div>
<div class="t" style="left:1047.80px;top:470.39px;font-family:'DejaVu Sans';font-size:48.00px;transform:scaleX(0.9478);color:#000;">exploratory</div>
<div class="t" style="left:1324.90px;top:470.39px;font-family:'DejaVu Sans';font-size:48.00px;transform:scaleX(0.9483);color:#000;">graphic</div>
<div class="t" style="left:1508.10px;top:470.39px;font-family:'DejaVu Sans';font-size:48.00px;transform:scaleX(0.9650);color:#000;">into</div>
<div class="t" style="left:1611.48px;top:470.39px;font-family:'DejaVu Sans';font-size:48.00px;transform:scaleX(0.9783);color:#000;">an</div>
<div class="t" style="left:1683.51px;top:470.39px;font-family:'DejaVu Sans';font-size:48.00px;transform:scaleX(0.9422);color:#000;">expository</div>
<div class="t" style="left:1935.60px;top:470.39px;font-family:'DejaVu Sans';font-size:48.00px;transform:scaleX(0.9483);color:#000;">graphic</div>
<div class="t" style="left:2118.92px;top:470.39px;font-family:'DejaVu Sans';font-size:48.00px;transform:scaleX(0.9391);color:#000;">is</div>
<div class="t" style="left:2170.04px;top:470.39px;font-family:'DejaVu Sans';font-size:48.00px;transform:scaleX(0.9675);color:#000;">with</div>
<div class="t" style="left:81.31px;top:537.79px;font-family:'DejaVu Sans';font-size:48.00px;transform:scaleX(0.9807);color:#000;">good</div>
<div class="t" style="left:210.66px;top:537.79px;font-family:'DejaVu Sans';font-size:48.00px;transform:scaleX(0.9524);color:#000;">labels.</div>
<div class="t" style="left:373.80px;top:537.79px;font-family:'DejaVu Sans';font-size:48.00px;transform:scaleX(1.0378);color:#000;">You</div>
<div class="t" style="left:474.74px;top:537.79px;font-family:'DejaVu Sans';font-size:48.00px;transform:scaleX(0.9307);color:#000;">can</div>
<div class="t" style="left:566.89px;top:537.79px;font-family:'DejaVu Sans';font-size:48.00px;transform:scaleX(0.9759);color:#000;">add</div>
<div class="t" style="left:666.61px;top:537.79px;font-family:'DejaVu Sans';font-size:48.00px;transform:scaleX(0.9413);color:#000;">labels</div>
<div class="t" style="left:814.06px;top:537.79px;font-family:'DejaVu Sans';font-size:48.00px;transform:scaleX(0.9566);color:#000;">with</div>
<div class="t" style="left:925.90px;top:537.79px;font-family:'DejaVu Sans';font-size:48.00px;transform:scaleX(0.9168);color:#000;">the</div>
<div class="t" style="left:1190.08px;top:537.79px;font-family:'DejaVu Sans';font-size:48.00px;transform:scaleX(0.9532);color:#000;">function.</div>
<div class="t" style="left:1406.23px;top:537.79px;font-family:'DejaVu Sans';font-size:48.00px;transform:scaleX(0.9647);color:#000;">This</div>
<div class="t" style="left:1516.02px;top:537.79px;font-family:'DejaVu Sans';font-size:48.00px;transform:scaleX(0.9398);color:#000;">example</div>
<div class="t" style="left:1723.47px;top:537.79px;font-family:'DejaVu Sans';font-size:48.00px;transform:scaleX(0.9480);color:#000;">adds</div>
<div class="t" style="left:1846.72px;top:537.79px;font-family:'DejaVu Sans';font-size:48.00px;color:#000;">a</div>
<div class="t" style="left:1887.13px;top:537.79px;font-family:'DejaVu Sans';font-size:48.00px;transform:scaleX(0.9415);color:#000;">plot</div>
<div class="t" style="left:1990.36px;top:537.79px;font-family:'DejaVu Sans';font-size:48.00px;transform:scaleX(0.9541);color:#000;">title:</div>
<div class="t" style="left:1016.51px;top:539.48px;font-family:'DejaVu Sans Mono';font-size:41.69px;transform:scaleX(1.0460);color:#000;">labs()</div>
<div class="code" style="left:98.60px;top:661.37px"><span style="color:#3C4C72">{r}</span><span class="nl" style="color:#3C4C72">¬</span></div>
<div class="code" style="left:98.60px;top:720.87px"><span style="color:#7F9DC4">#|</span><span class="dt">·</span><span style="color:#7F9DC4">message:</span><span class="dt">·</span><span style="color:#7F9DC4">false</span><span class="nl" style="color:#BFBFBF">¬</span></div>
<div class="code" style="left:98.60px;top:781.37px"><span style="color:#0000FF">library</span><span style="color:#E98AA0">(</span><span style="color:#000000">ggplot2</span><span style="color:#E98AA0">)</span><span class="nl" style="color:#BFBFBF">¬</span></div>
<div class="code" style="left:98.60px;top:840.97px"><span class="nl" style="color:#BFBFBF">¬</span></div>
<div class="code" style="left:98.60px;top:900.47px"><span style="color:#3C4C72">ggplot</span><span style="color:#E98AA0">(</span><span style="color:#000000">mpg</span><span style="color:#687687">,</span><span class="dt">·</span><span style="color:#3C4C72">aes</span><span style="color:#D9A35F">(</span><span style="color:#000000">x</span><span class="dt">·</span><span style="color:#687687">=</span><span class="dt">·</span><span style="color:#000000">displ</span><span style="color:#687687">,</span><span class="dt">·</span><span style="color:#000000">y</span><span class="dt">·</span><span style="color:#687687">=</span><span class="dt">·</span><span style="color:#000000">hwy</span><span style="color:#D9A35F">)</span><span style="color:#E98AA0">)</span><span class="dt">·</span><span style="color:#687687">+</span><span class="nl" style="color:#BFBFBF">¬</span></div>
<div class="code" style="left:98.60px;top:959.57px"><span class="dt">·</span><span class="dt">·</span><span style="color:#3C4C72">geom_point</span><span style="color:#E98AA0">(</span><span style="color:#3C4C72">aes</span><span style="color:#D9A35F">(</span><span style="color:#000000">color</span><span class="dt">·</span><span style="color:#687687">=</span><span class="dt">·</span><span style="color:#000000">class</span><span style="color:#D9A35F">)</span><span style="color:#E98AA0">)</span><span class="dt">·</span><span style="color:#687687">+</span><span class="nl" style="color:#BFBFBF">¬</span></div>
<div class="code" style="left:98.60px;top:1019.67px"><span class="dt">·</span><span class="dt">·</span><span style="color:#3C4C72">geom_smooth</span><span style="color:#E98AA0">(</span><span style="color:#000000">se</span><span class="dt">·</span><span style="color:#687687">=</span><span class="dt">·</span><span style="color:#585CF6">FALSE</span><span style="color:#E98AA0">)</span><span class="dt">·</span><span style="color:#687687">+</span><span class="nl" style="color:#BFBFBF">¬</span></div>
<div class="code" style="left:98.60px;top:1077.47px"><span class="dt">·</span><span class="dt">·</span><span style="color:#3C4C72">labs</span><span style="color:#E98AA0">(</span><span style="color:#000000">title</span><span class="dt">·</span><span style="color:#687687">=</span><span class="dt">·</span><span style="color:#036A07">"Fuel</span><span class="dt">·</span><span style="color:#036A07">efficiency</span><span class="dt">·</span><span style="color:#036A07">generally</span><span class="dt">·</span><span style="color:#036A07">decreases</span><span class="dt">·</span><span style="color:#036A07">with</span><span class="dt">·</span><span style="color:#036A07">engine</span><span class="dt">·</span><span style="color:#036A07">size."</span><span style="color:#E98AA0">)</span><span style="color:#BFBFBF">¶</span></div>
</body></html>
